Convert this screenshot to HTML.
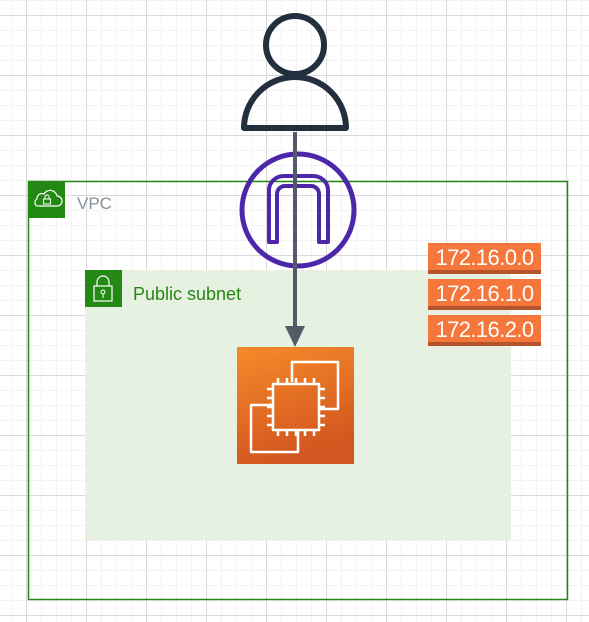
<!DOCTYPE html>
<html><head><style>
html,body{margin:0;padding:0;}
body{width:589px;height:622px;position:relative;overflow:hidden;background:#fff;font-family:"Liberation Sans",sans-serif;
background-image:
linear-gradient(to right,#dadada 1px,transparent 1px),
linear-gradient(to bottom,#dadada 1px,transparent 1px),
linear-gradient(to right,#f3f3f3 1px,transparent 1px),
linear-gradient(to bottom,#f3f3f3 1px,transparent 1px);
background-size:60px 60px,60px 60px,15px 15px,15px 15px;
background-position:26px 0,0 15px,11px 0,0 0;}
.lbl{position:absolute;left:428px;width:113px;height:27px;background:#F5773B;border-bottom:4px solid #B5532A;color:#fff;font-size:22px;letter-spacing:-0.6px;line-height:30px;text-align:center;overflow:hidden;}
</style></head><body>
<svg width="589" height="622" style="position:absolute;left:0;top:0">
<rect x="28.5" y="181.5" width="539" height="418" fill="none" stroke="#248814" stroke-width="1.5"/>
<rect x="28" y="181" width="37" height="37" fill="#248814"/>
<path d="M37 206 h20 a5 5 0 0 0 0-10 a7 7 0 0 0-13-2 a5 5 0 0 0-7 5 a4 4 0 0 0 0 7z" fill="none" stroke="#fff" stroke-width="1.2"/>
<rect x="43.5" y="199" width="7" height="5" fill="none" stroke="#fff" stroke-width="1"/>
<path d="M45 199 v-2 a2 2 0 0 1 4 0 v2" fill="none" stroke="#fff" stroke-width="1"/>
<text x="77" y="209" font-size="17" fill="#879196" font-family="Liberation Sans,sans-serif">VPC</text>
<rect x="85" y="270" width="426" height="270" fill="#E6F1E2"/>
<rect x="85" y="270" width="37" height="37" fill="#248814"/>
<rect x="94" y="286" width="18" height="15" fill="none" stroke="#fff" stroke-width="1.2"/>
<path d="M97 286 v-4 a6 6 0 0 1 12 0 v4" fill="none" stroke="#fff" stroke-width="1.2"/>
<circle cx="103" cy="292" r="2" fill="none" stroke="#fff"/><line x1="103" y1="294" x2="103" y2="298" stroke="#fff"/>
<text x="133" y="300" font-size="18" fill="#248814" font-family="Liberation Sans,sans-serif">Public subnet</text>
<defs><linearGradient id="g" x1="0" y1="0" x2="0.3" y2="1"><stop offset="0" stop-color="#F68A2A"/><stop offset="1" stop-color="#D2561F"/></linearGradient></defs>
<rect x="237" y="347" width="117" height="117" fill="url(#g)"/>
<g transform="translate(237,347)" fill="none" stroke="#fff" stroke-width="2.5" stroke-linejoin="round">
<path d="M55 35 V15 H101 V62 H83"/>
<path d="M35 58 H14 V105 H61 V84"/>
<rect x="36" y="37" width="46" height="46"/>
<path d="M41 37v-6M50 37v-6M59 37v-6M68 37v-6M77 37v-6 M41 83v6M50 83v6M59 83v6M68 83v6M77 83v6 M36 42h-6M36 51h-6M36 60h-6M36 69h-6M36 78h-6 M82 42h6M82 51h6M82 60h6M82 69h6M82 78h6"/>
</g>
<circle cx="295" cy="45" r="29" fill="none" stroke="#232F3E" stroke-width="6"/>
<path d="M244 128 A51 51 0 0 1 346 128 Z" fill="none" stroke="#232F3E" stroke-width="6" stroke-linejoin="round"/>
<circle cx="298" cy="210" r="56" fill="none" stroke="#4D27AA" stroke-width="5"/>
<path d="M269 242 V190 A15 14 0 0 1 284 176 H313 A15 14 0 0 1 328 190 V242 H319 V194 A8 8 0 0 0 311 186 H285 A8 8 0 0 0 277 194 V242 Z" fill="none" stroke="#4D27AA" stroke-width="4" stroke-linejoin="round"/>
<line x1="295" y1="132" x2="295" y2="328" stroke="#545B64" stroke-width="4"/>
<path d="M285 326 L305 326 L295 347 Z" fill="#545B64"/>
</svg>
<div class="lbl" style="top:243px">172.16.0.0</div>
<div class="lbl" style="top:279px">172.16.1.0</div>
<div class="lbl" style="top:315px">172.16.2.0</div>
</body></html>
